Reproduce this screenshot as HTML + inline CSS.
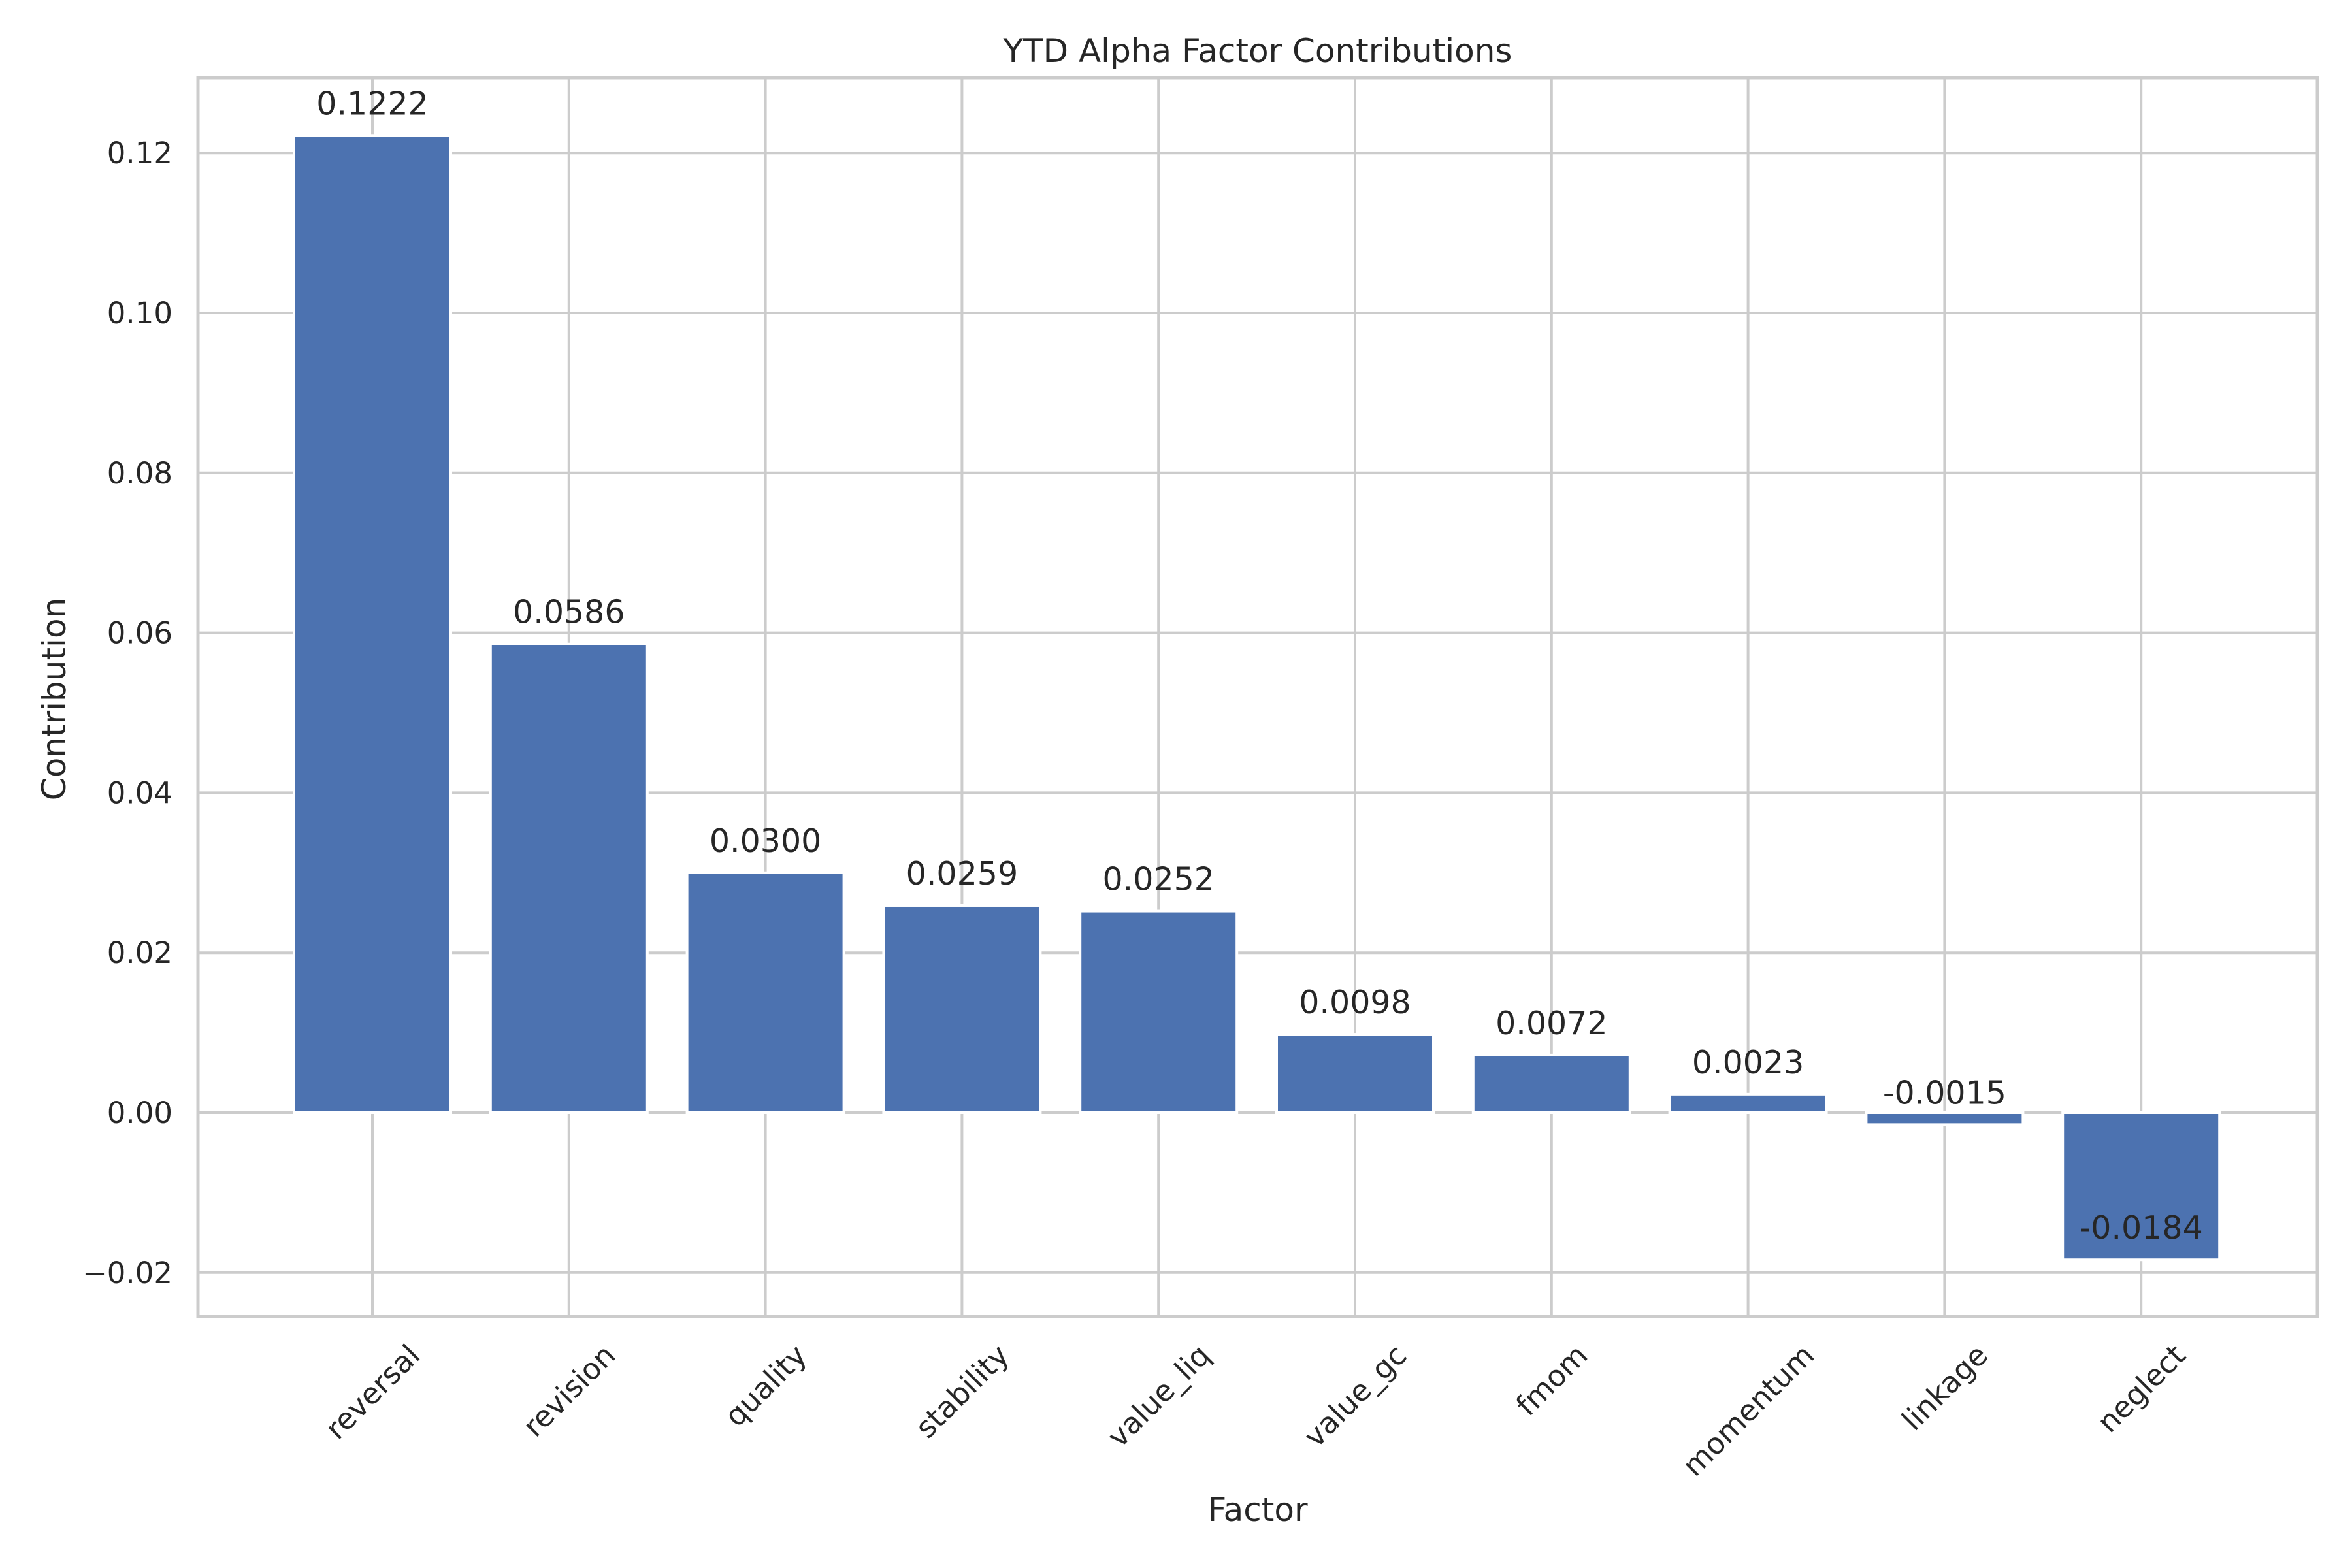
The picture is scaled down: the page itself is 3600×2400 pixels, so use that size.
<!DOCTYPE html>
<html><head><meta charset="utf-8"><style>
html,body{margin:0;padding:0;background:#fff}
svg{display:block}
text{font-family:"DejaVu Sans","Liberation Sans",sans-serif;fill:#262626}
</style></head><body>
<svg id="s" width="3600" height="2400" viewBox="0 0 3600 2400" xmlns="http://www.w3.org/2000/svg">
<rect width="3600" height="2400" fill="#fff"/>
<g id="grid" stroke="#cccccc" stroke-width="4"></g>
<g id="bars"></g>
<rect x="303" y="119" width="3244" height="1896" fill="none" stroke="#cccccc" stroke-width="5"/>
<g id="labels"></g>
<text x="1925" y="95" font-size="50" text-anchor="middle">YTD Alpha Factor Contributions</text>
<text x="1925" y="2328" font-size="50" text-anchor="middle">Factor</text>
<text transform="translate(100,1070) rotate(-90)" font-size="50" text-anchor="middle">Contribution</text>
</svg>
<script>
var NS="http://www.w3.org/2000/svg";
function el(t,a,p,txt){var e=document.createElementNS(NS,t);for(var k in a)e.setAttribute(k,a[k]);if(txt!==undefined)e.textContent=txt;p.appendChild(e);return e;}
var grid=document.getElementById('grid'),bars=document.getElementById('bars'),lab=document.getElementById('labels');
var y0=1703,per=244.8/0.02;
function Y(v){return y0-v*per;}
var names=["reversal","revision","quality","stability","value_liq","value_gc","fmom","momentum","linkage","neglect"];
var vals=[0.1222,0.0586,0.0300,0.0259,0.0252,0.0098,0.0072,0.0023,-0.0015,-0.0184];
var ticks=[-0.02,0,0.02,0.04,0.06,0.08,0.10,0.12];
ticks.forEach(function(t){var y=Y(t);el('line',{x1:303,x2:3547,y1:y,y2:y},grid);
 el('text',{x:264,y:y+16,'font-size':45,'text-anchor':'end'},lab,(t<0?'\u22120.02':t.toFixed(2)));});
names.forEach(function(n,i){var cx=570+300.8*i;el('line',{x1:cx,x2:cx,y1:119,y2:2014},grid);
 var v=vals[i],top=Math.min(Y(v),y0),h=Math.abs(Y(v)-y0);
 el('rect',{x:cx-120,y:top,width:240,height:h,fill:'#4c72b0',stroke:'#fff','stroke-width':4},bars);
 el('text',{x:cx,y:Y(v)-32,'font-size':49,'text-anchor':'middle'},lab,v.toFixed(4));
 var t=el('text',{'font-size':45,'text-anchor':'middle'},lab,n);
 var L=t.getComputedTextLength(),hh=45;
 var bh=(L+hh)*Math.SQRT1_2;var cy=2050+bh/2;
 t.setAttribute('transform','translate('+cx+','+cy+') rotate(-45)');t.setAttribute('y',16);t.setAttribute('x',0);
});
</script>
</body></html>
